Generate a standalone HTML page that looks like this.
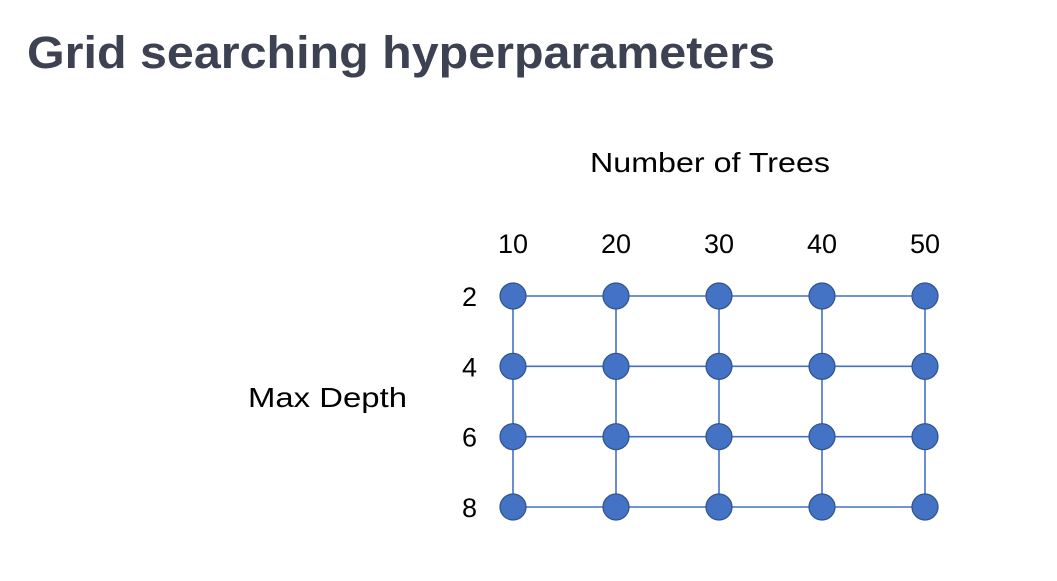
<!DOCTYPE html>
<html><head><meta charset="utf-8"><style>
html,body{margin:0;padding:0;background:#fff;width:1057px;height:581px;overflow:hidden}
</style></head><body>
<svg id="chart" width="1057" height="581" xmlns="http://www.w3.org/2000/svg" font-family="'Liberation Sans', sans-serif">
<text x="27" y="68" font-size="45" font-weight="bold" fill="#3c4252" textLength="748" lengthAdjust="spacingAndGlyphs">Grid searching hyperparameters</text>
<text x="590" y="172" font-size="28" fill="#000" textLength="240" lengthAdjust="spacingAndGlyphs">Number of Trees</text>
<text x="248" y="407" font-size="28" fill="#000" textLength="159" lengthAdjust="spacingAndGlyphs">Max Depth</text>
<g id="g"></g>
</svg>
<script>
const trees = [10, 20, 30, 40, 50];
const depths = [2, 4, 6, 8];
const treeLabels = ["10", "20", "30", "40", "50"];
const depthLabels = ["2", "4", "6", "8"];
function xs(v){ return 513 + (v - 10) * (925 - 513) / 40; }
function ys(v){ return 296 + (v - 2) * (507 - 296) / 6; }
const NS = "http://www.w3.org/2000/svg";
const g = document.getElementById("g");
function mk(tag, attrs){ const e = document.createElementNS(NS, tag); for (const k in attrs) e.setAttribute(k, attrs[k]); g.appendChild(e); return e; }
depths.forEach(d => {
  const l = mk("line", {x1: xs(trees[0]), x2: xs(trees[trees.length-1]), y1: ys(d), y2: ys(d), stroke: "#4472c4", "stroke-width": 1.6});
  
  
});
trees.forEach(t => {
  const l = mk("line", {x1: xs(t), x2: xs(t), y1: ys(depths[0]), y2: ys(depths[depths.length-1]), stroke: "#4472c4", "stroke-width": 1.6});
  
  
});
trees.forEach((t, i) => {
  const tx = mk("text", {x: xs(t), y: 253, "font-size": 27, "text-anchor": "middle", fill: "#000"});
  tx.textContent = treeLabels[i];
  
  
});
depths.forEach((d, i) => {
  const tx = mk("text", {x: 477, y: ys(d) + 10, "font-size": 27, "text-anchor": "end", fill: "#000"});
  tx.textContent = depthLabels[i];
  
  
});
depths.forEach(d => trees.forEach(t => {
  const c = mk("circle", {cx: xs(t), cy: ys(d), r: 13, fill: "#4472c4", stroke: "#2f528f", "stroke-width": 1.2});
  
  
}));
</script>
</body></html>
